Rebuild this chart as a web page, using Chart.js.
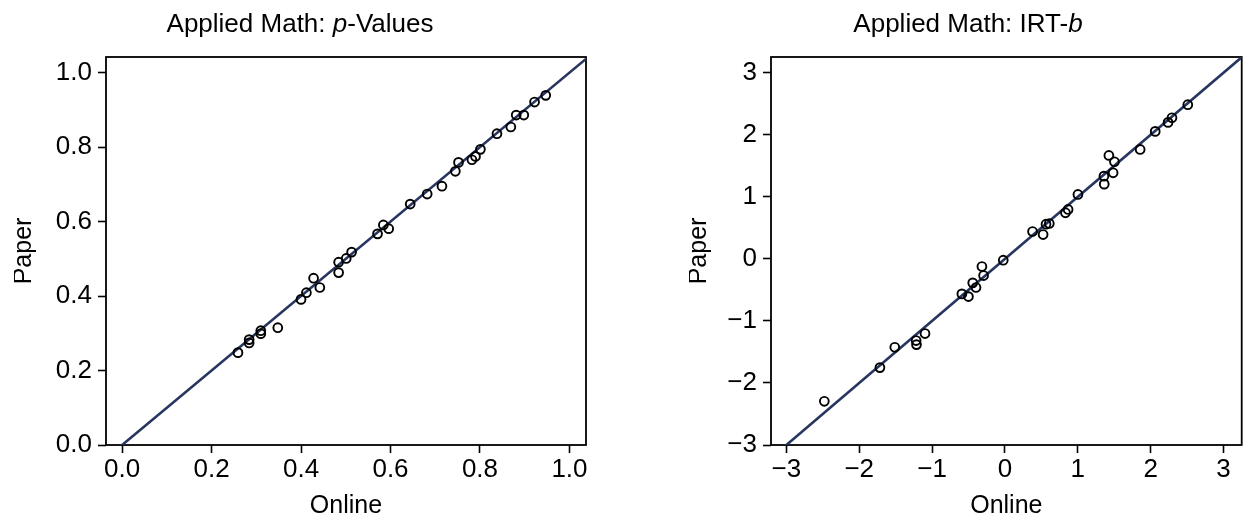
<!DOCTYPE html>
<html>
<head>
<meta charset="utf-8">
<script src="https://cdn.jsdelivr.net/npm/chart.js@4.4.0/dist/chart.umd.min.js"></script>
<style>
  body { margin: 0; width: 1248px; height: 518px; background: #fff; position: relative; overflow: hidden; }
  .box { position: absolute; top: 0; height: 518px; }
</style>
</head>
<body>
<div class="box" style="left:14px;width:586px"><canvas id="pValues"></canvas></div>
<div class="box" style="left:689px;width:559px"><canvas id="irtB"></canvas></div>
<script>
// Applied Math: p-values, online vs paper
const onlineP = [0.259, 0.284, 0.284, 0.310, 0.310, 0.348, 0.400, 0.412, 0.428, 0.442,
  0.484, 0.484, 0.501, 0.513, 0.571, 0.584, 0.596, 0.644, 0.682, 0.715,
  0.745, 0.752, 0.782, 0.790, 0.801, 0.838, 0.869, 0.881, 0.898, 0.922, 0.947];
const paperP = [0.248, 0.283, 0.274, 0.307, 0.299, 0.315, 0.391, 0.409, 0.448, 0.423,
  0.491, 0.463, 0.501, 0.518, 0.567, 0.591, 0.581, 0.647, 0.674, 0.695,
  0.735, 0.759, 0.766, 0.775, 0.794, 0.836, 0.854, 0.886, 0.886, 0.921, 0.939];
const ticksP = [0, 0.2, 0.4, 0.6, 0.8, 1.0];
const identityP = [-0.1, 1.2];

// Applied Math: IRT b parameters, online vs paper
const onlineB = [-2.479, -1.716, -1.512, -1.219, -1.214, -1.097, -0.591, -0.501, -0.442, -0.397,
  -0.316, -0.293, -0.023, 0.379, 0.524, 0.564, 0.609, 0.831, 0.867, 1.002,
  1.359, 1.363, 1.427, 1.485, 1.503, 1.856, 2.063, 2.239, 2.293, 2.510];
const paperB = [-2.296, -1.753, -1.425, -1.317, -1.382, -1.204, -0.565, -0.608, -0.387, -0.462,
  -0.124, -0.269, -0.022, 0.441, 0.392, 0.559, 0.570, 0.742, 0.796, 1.038,
  1.333, 1.204, 1.667, 1.387, 1.565, 1.763, 2.054, 2.199, 2.274, 2.484];
const ticksB = [-3, -2, -1, 0, 1, 2, 3];
const identityB = [-3.5, 3.5];

// titles: [text, italic]
const titleP = [['Applied Math: ', false], ['p', true], ['-Values', false]];
const titleB = [['Applied Math: IRT-', false], ['b', true]];

const FONT = "'Liberation Sans', Arial, sans-serif";
const lineColor = '#27365f';

// frame round the plot area + a title with italic parts
const framePlugin = {
  id: 'frame',
  beforeDatasetsDraw(chart) {
    const { ctx, chartArea: a } = chart;
    ctx.save();
    ctx.strokeStyle = '#000';
    ctx.lineWidth = 1.8;
    ctx.strokeRect(a.left, a.top, a.right - a.left, a.bottom - a.top);
    ctx.restore();
  },
  afterDraw(chart, args, opts) {
    const ctx = chart.ctx;
    const parts = opts.parts || [];
    const fontOf = it => (it ? 'italic ' : '') + '26px ' + FONT;
    ctx.save();
    ctx.fillStyle = '#000';
    ctx.textBaseline = 'alphabetic';
    let w = 0;
    parts.forEach(([t, it]) => { ctx.font = fontOf(it); w += ctx.measureText(t).width; });
    let x = opts.cx - w / 2;
    parts.forEach(([t, it]) => {
      ctx.font = fontOf(it);
      ctx.textAlign = 'left';
      ctx.fillText(t, x, opts.baseline);
      x += ctx.measureText(t).width;
    });
    ctx.restore();
  },
};

function makeScatter(el, opts) {
  const pts = opts.x.map((v, i) => ({ x: v, y: opts.y[i] }));
  const diag = opts.identity.map(v => ({ x: v, y: v }));
  const axis = (min, max, tickVals, title, tickPad, titlePad) => ({
    type: 'linear',
    min: min,
    max: max,
    afterBuildTicks: s => { s.ticks = tickVals.map(v => ({ value: v })); },
    border: { display: false },
    grid: { drawOnChartArea: false, drawTicks: true, tickLength: 8, tickColor: '#000', tickWidth: 1.6 },
    ticks: {
      color: '#000',
      padding: tickPad,
      font: { family: FONT, size: 26 },
      callback: v => opts.fmt(v),
    },
    title: {
      display: true,
      text: title,
      color: '#000',
      font: { family: FONT, size: 25, lineHeight: 1 },
      padding: titlePad,
    },
  });
  return new Chart(el, {
    type: 'scatter',
    data: {
      datasets: [
        {
          data: pts,
          pointStyle: 'circle',
          pointRadius: 4.4,
          pointHoverRadius: 4.4,
          borderColor: '#000',
          backgroundColor: 'rgba(0,0,0,0)',
          borderWidth: 1.9,
          order: 1,
        },
        {
          type: 'line',
          data: diag,
          borderColor: lineColor,
          borderWidth: 2.6,
          pointRadius: 0,
          fill: false,
          order: 2,
        },
      ],
    },
    options: {
      responsive: true,
      maintainAspectRatio: false,
      animation: false,
      events: [],
      layout: { padding: { top: 57, left: 0, bottom: 0, right: opts.padRight } },
      plugins: {
        legend: { display: false },
        tooltip: { enabled: false },
        title: { display: false },
        frame: { parts: opts.title, cx: opts.titleX, baseline: 32 },
      },
      scales: {
        x: Object.assign(axis(opts.xMin, opts.xMax, opts.ticks, 'Online', 1, { top: 0, bottom: -1 }), {
          afterFit: s => { s.height = 73; },
        }),
        y: Object.assign(axis(opts.yMin, opts.yMax, opts.ticks, 'Paper', 6, { top: -2.5, bottom: 0 }), {
          afterFit: s => { s.width = opts.yWidth; },
        }),
      },
    },
    plugins: [framePlugin],
  });
}

makeScatter(document.getElementById('pValues'), {
  title: titleP, titleX: 286,
  x: onlineP, y: paperP, identity: identityP, ticks: ticksP,
  xMin: -0.036, xMax: 1.037, yMin: 0, yMax: 1.042,
  yWidth: 92, padRight: 14,
  fmt: v => v.toFixed(1),
});

makeScatter(document.getElementById('irtB'), {
  title: titleB, titleX: 279,
  x: onlineB, y: paperB, identity: identityB, ticks: ticksB,
  xMin: -3.211, xMax: 3.25, yMin: -3, yMax: 3.253,
  yWidth: 82, padRight: 1,
  fmt: v => (v < 0 ? '\u2212' + Math.abs(v) : String(v)),
});
</script>
</body>
</html>
